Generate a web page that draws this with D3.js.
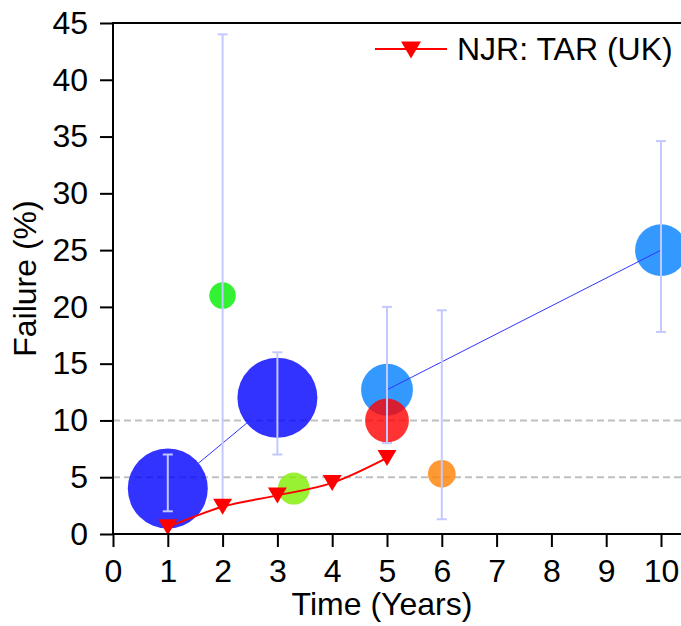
<!DOCTYPE html>
<html>
<head>
<meta charset="utf-8">
<script src="https://cdn.jsdelivr.net/npm/d3@7"></script>
<style>
  html, body { margin: 0; padding: 0; background: #fff; }
  svg { display: block; font-family: "Liberation Sans", Arial, sans-serif; }
</style>
</head>
<body>
<svg id="chart" width="681" height="626"></svg>
<script>
// Individual studies (bubbles): time, failure, 95% interval, relative cohort size, series
const studyTime    = [1, 3, 2, 3.3, 5, 5, 6, 10];
const studyFailure = [4, 12, 21, 4, 12.7, 10, 5.3, 25];
const studyLow     = [2, 7, 3, null, 8, null, 1.3, 17.8];
const studyHigh    = [7, 16, 44, null, 20, null, 19.7, 34.6];
const studyCohort  = [100, 100, 11, 16, 42, 30, 12, 42];
const studySeries  = ["A", "A", "B", "C", "D", "E", "F", "D"];

// National Joint Registry revision rates
const njrLabel   = "NJR: TAR (UK)";
const njrTime    = [1, 2, 3, 4, 5];
const njrFailure = [0.6, 2.4, 3.4, 4.5, 6.7];

// Axis ticks
const xTicks = [0, 1, 2, 3, 4, 5, 6, 7, 8, 9, 10];
const yTicks = [0, 5, 10, 15, 20, 25, 30, 35, 40, 45];
const gridValues = [5, 10];

// Series colours
const seriesNames  = ["A", "B", "C", "D", "E", "F"];
const seriesColors = ["#0000ff", "#00ee00", "#80ee00", "#0080ff", "#ff0000", "#ff8000"];

const svg = d3.select("#chart");
const plotLeft = 113, plotTop = 23, plotBottom = 534, plotRight = 694;
const fontSize = 32;

const x = d3.scaleLinear().domain([0, 10.6]).range([plotLeft, plotLeft + 10.6 * 54.8]);
const y = d3.scaleLinear().domain([0, 45]).range([plotBottom, plotTop]);
const r = d3.scaleSqrt().domain([0, 100]).range([0, 40]);
const color = d3.scaleOrdinal().domain(seriesNames).range(seriesColors);

const studies = studyTime.map((t, i) => ({
  t, f: studyFailure[i], lo: studyLow[i], hi: studyHigh[i],
  n: studyCohort[i], s: studySeries[i]
}));

// Dashed reference lines
svg.append("g").selectAll("line").data(gridValues).join("line")
  .attr("x1", plotLeft).attr("x2", plotRight)
  .attr("y1", d => y(d)).attr("y2", d => y(d))
  .attr("stroke", "#c0c0c0").attr("stroke-width", 2)
  .attr("stroke-dasharray", "7,4");

// Bubbles
svg.append("g").selectAll("circle").data(studies).join("circle")
  .attr("cx", d => x(d.t)).attr("cy", d => y(d.f))
  .attr("r", d => r(d.n))
  .attr("fill", d => color(d.s)).attr("fill-opacity", 0.8);

// Thin lines joining studies of the same series
const joined = d3.groups(studies, d => d.s).filter(([, v]) => v.length > 1);
const thin = d3.line().x(d => x(d.t)).y(d => y(d.f));
svg.append("g").selectAll("path").data(joined).join("path")
  .attr("d", ([, v]) => thin(v.slice().sort((a, b) => a.t - b.t)))
  .attr("fill", "none").attr("stroke", "#3333ff").attr("stroke-width", 1);

// Error bars
const withBars = studies.filter(d => d.lo != null);
const eb = svg.append("g").attr("stroke", "#c3c8ff").attr("stroke-width", 2);
eb.selectAll("line.v").data(withBars).join("line").attr("class", "v")
  .attr("x1", d => x(d.t)).attr("x2", d => x(d.t))
  .attr("y1", d => y(d.lo)).attr("y2", d => y(d.hi));
eb.selectAll("line.hi").data(withBars).join("line").attr("class", "hi")
  .attr("x1", d => x(d.t) - 5).attr("x2", d => x(d.t) + 5)
  .attr("y1", d => y(d.hi)).attr("y2", d => y(d.hi));
eb.selectAll("line.lo").data(withBars).join("line").attr("class", "lo")
  .attr("x1", d => x(d.t) - 5).attr("x2", d => x(d.t) + 5)
  .attr("y1", d => y(d.lo)).attr("y2", d => y(d.lo));

// NJR line with downward triangles
const tri = (w, h) => `M${-w / 2},${-h / 2}L${w / 2},${-h / 2}L0,${h / 2}Z`;
const njr = njrTime.map((t, i) => ({ t, f: njrFailure[i] }));
svg.append("path").datum(njr)
  .attr("d", d3.line().x(d => x(d.t)).y(d => y(d.f)).curve(d3.curveMonotoneX))
  .attr("fill", "none").attr("stroke", "#ff0000").attr("stroke-width", 2);
svg.append("g").selectAll("path").data(njr).join("path")
  .attr("transform", d => `translate(${x(d.t)},${y(d.f)})`)
  .attr("d", tri(19, 16)).attr("fill", "#ff0000");

// Axes
const xAxis = svg.append("g").attr("transform", `translate(0,${plotBottom})`)
  .call(d3.axisBottom(x).tickValues(xTicks).tickSize(13).tickPadding(12).tickFormat(d3.format("d")));
const yAxis = svg.append("g").attr("transform", `translate(${plotLeft},0)`)
  .call(d3.axisLeft(y).tickValues(yTicks).tickSize(13).tickPadding(12).tickFormat(d3.format("d")));
[xAxis, yAxis].forEach(g => {
  g.select(".domain").remove();
  g.selectAll(".tick line").attr("stroke", "#000").attr("stroke-width", 2);
  g.selectAll(".tick text").attr("fill", "#000")
    .style("font-size", fontSize + "px").style("font-family", "'Liberation Sans', Arial, sans-serif");
});
svg.append("path")
  .attr("d", `M${plotRight},${plotTop}H${plotLeft}V${plotBottom}H${plotRight}`)
  .attr("fill", "none").attr("stroke", "#000").attr("stroke-width", 2);

// Axis titles
svg.append("text").attr("x", 382).attr("y", 615).attr("text-anchor", "middle")
  .style("font-size", fontSize + "px").text("Time (Years)");
svg.append("text").attr("transform", `translate(36,${(plotTop + plotBottom) / 2}) rotate(-90)`)
  .attr("text-anchor", "middle").style("font-size", fontSize + "px").text("Failure (%)");

// Legend
const lg = svg.append("g").attr("transform", "translate(375,49)");
lg.append("line").attr("x1", 0).attr("x2", 72).attr("y1", 0).attr("y2", 0)
  .attr("stroke", "#ff0000").attr("stroke-width", 2);
lg.append("path").attr("transform", "translate(36,1)").attr("d", tri(20, 17)).attr("fill", "#ff0000");
lg.append("text").attr("x", 82).attr("y", 11).style("font-size", fontSize + "px").text(njrLabel);
</script>
</body>
</html>
